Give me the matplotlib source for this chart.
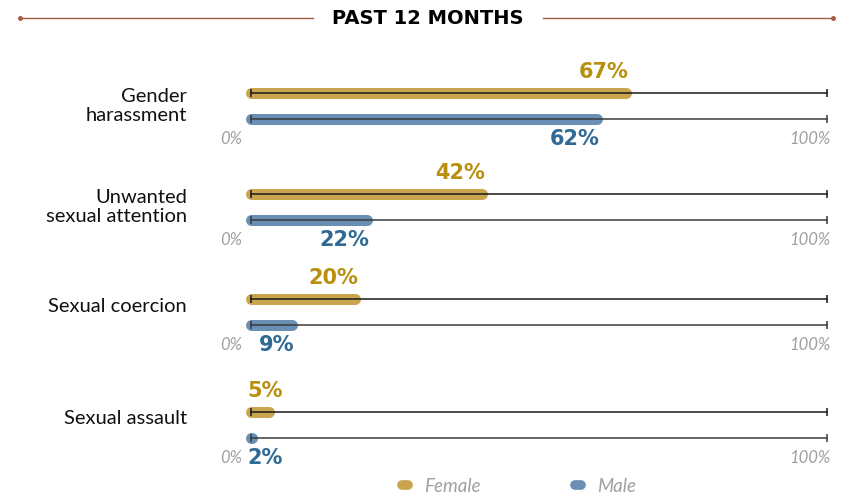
import matplotlib
matplotlib.use('Agg')
import matplotlib.pyplot as plt
from matplotlib.lines import Line2D

categories = ['Gender\nharassment', 'Unwanted\nsexual attention', 'Sexual coercion', 'Sexual assault']
female = [67, 42, 20, 5]
male = [62, 22, 9, 2]
series_names = ['Female', 'Male']
title = 'PAST 12 MONTHS'

female_bar = '#C9A54E'
male_bar = '#6A8FB4'
female_txt = '#B8900E'
male_txt = '#2F6A95'
rule_col = '#A45A45'
grey_txt = '#A0A0A0'

W, H = 842, 495
fig = plt.figure(figsize=(W / 100, H / 100), dpi=100)

# axes in pixel-like y units, x in percent
x0, x1 = 251, 827
ax = fig.add_axes([x0 / W, 0, (x1 - x0) / W, 1])
ax.set_xlim(0, 100)
ax.set_ylim(H, 0)
ax.axis('off')

px = 100 / (x1 - x0)  # one pixel in data units
cap = 5.5 * px
fem_y = [93, 194, 299, 412]
gap = 26

for i, cat in enumerate(categories):
    yf = fem_y[i]
    ym = yf + gap
    for y, v, bc, tc, lc, below in [(yf, female[i], female_bar, female_txt, '#1a1a1a', False),
                                    (ym, male[i], male_bar, male_txt, '#3a3a3a', True)]:
        ax.plot([0, max(v - 2 * cap, 0.05)], [y, y], color=bc, lw=11 * 0.72,
                solid_capstyle='round', zorder=2, clip_on=False)
        ax.plot([0, 100], [y, y], color=lc, lw=1.1, zorder=3, clip_on=False,
                marker='|', markersize=6, markeredgewidth=1.1, markevery=[0, 1])
        ty = y + 20 if below else y - 21
        t = ax.text(v - cap - 0.5, ty, f'{v}%', ha='right', va='center', color=tc,
                    fontsize=15, fontweight='bold', family='DejaVu Sans')
        fig.canvas.draw()
        bb = t.get_window_extent()
        if bb.x0 < x0 - 4:
            t.set_ha('left')
            t.set_x(-0.6)
    # one-line labels sit a little above the pair centre in the original
    ly = (yf + ym) / 2 if '\n' in cat else (yf + ym) / 2 - 6
    ax.text(-100 * 64 / (x1 - x0), ly, cat, ha='right', va='center',
            fontsize=14.5, family='Lato', color='#111111', linespacing=1.2)
    ax.text(-1.5, ym + 20, '0%', ha='right', va='center', fontsize=12,
            family='Lato', style='italic', color=grey_txt)
    ax.text(100.7, ym + 20, '100%', ha='right', va='center', fontsize=12,
            family='Lato', style='italic', color=grey_txt)

# title with rules
fig.text(428 / W, 1 - 18 / H, title, ha='center', va='center', fontsize=14,
         fontweight='bold', family=['Liberation Sans Narrow', 'DejaVu Sans'])
fig.add_artist(Line2D([20 / W, 313 / W], [1 - 18 / H] * 2, color=rule_col, lw=1,
                      marker='o', markersize=2.5, markevery=[0]))
fig.add_artist(Line2D([543 / W, 833 / W], [1 - 18 / H] * 2, color=rule_col, lw=1,
                      marker='o', markersize=2.5, markevery=[1]))

handles = [Line2D([0], [0], color=female_bar, lw=7, solid_capstyle='round'),
           Line2D([0], [0], color=male_bar, lw=7, solid_capstyle='round')]
leg = fig.legend(handles, series_names, loc='center', bbox_to_anchor=(519 / W, 1 - 486 / H),
                 ncol=2, frameon=False, handlelength=0.35, columnspacing=5.0,
                 handletextpad=0.85, prop={'family': 'Lato', 'style': 'italic', 'size': 13.5})
for txt in leg.get_texts():
    txt.set_color(grey_txt)

fig.savefig('out.png', dpi=100)
